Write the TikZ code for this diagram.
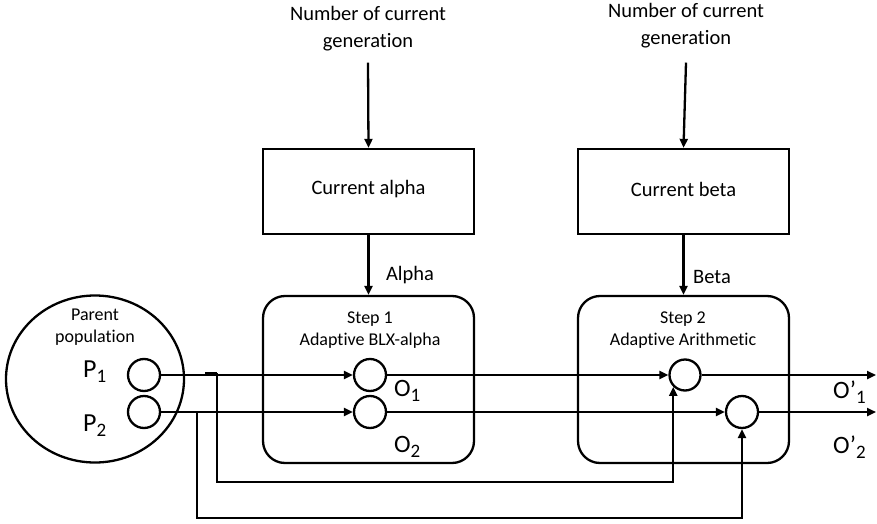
\documentclass[tikz,border=0pt]{standalone}
\usepackage{fontspec}
\setmainfont{Carlito}[Ligatures={NoCommon,NoContextual},Contextuals=NoAlternate]
\usetikzlibrary{arrows.meta,shapes.geometric}
\newcommand{\mysub}[1]{\raisebox{-5pt}{\fontsize{19}{19}\selectfont #1}}
\newcommand{\tisep}{t\kern0pt i}
\begin{document}
\begin{tikzpicture}[x=1pt,y=-1pt,line width=2.3pt,
  arr/.style={-{Triangle[length=9pt,width=8pt]}},
  txt/.style={font=\fontsize{20.5}{27}\selectfont,align=center,inner sep=0pt},
  smalltxt/.style={font=\fontsize{18}{22}\selectfont,align=center,inner sep=0pt},
  bigtxt/.style={font=\fontsize{26}{30}\selectfont,inner sep=0pt,anchor=base west},
  sqbox/.style={draw,minimum width=211pt,minimum height=85pt,inner sep=0pt},
  stepbox/.style={draw,rounded corners=22pt,minimum width=211pt,minimum height=167pt,inner sep=0pt},
  dot/.style={draw,circle,minimum size=32pt,inner sep=0pt},
  sdot/.style={draw,circle,minimum size=31pt,inner sep=0pt}]
\useasboundingbox (0,0) rectangle (877,524);

% population
\node[draw,ellipse,minimum width=178pt,minimum height=167pt,inner sep=0pt] (pop) at (95,379) {};
\node[smalltxt] (poplab) at (95,327) {Parent\\popula\tisep on};
\node[bigtxt] (p1lab) at (82,377) {P\mysub{1}};
\node[bigtxt] (p2lab) at (82,431) {P\mysub{2}};
\node[dot] (p1c) at (144,375) {};
\node[dot] (p2c) at (144,412) {};

% top inputs
\node[txt] (n1) at (368,29) {Number of current\\genera\tisep on};
\node[txt] (n2) at (686,26) {Number of current\\genera\tisep on};
\node[sqbox] (ca) at (368.5,191.5) {};
\node[txt] (calab) at (368.5,189) {Current alpha};
\node[sqbox] (cb) at (683.5,191.5) {};
\node[txt] (cblab) at (683.5,189) {Current beta};

% step boxes
\node[stepbox] (s1) at (368.5,379.5) {};
\node[smalltxt] (s1lab) at (370,330) {Step 1\\Adap\tisep ve BLX-alpha};
\node[stepbox] (s2) at (683.5,379.5) {};
\node[smalltxt] (s2lab) at (683,330) {Step 2\\Adap\tisep ve Arithme\tisep c};

\node[txt] (alab) at (410,275) {Alpha};
\node[txt] (blab) at (712,277) {Beta};

% offspring circles
\node[dot] (o1c) at (370,375) {};
\node[dot] (o2c) at (370,412) {};
\node[bigtxt,font=\fontsize{25}{30}\selectfont] (o1lab) at (393,396) {O\mysub{1}};
\node[bigtxt,font=\fontsize{25}{30}\selectfont] (o2lab) at (393,452) {O\mysub{2}};
\node[sdot] (s2a) at (685,375) {};
\node[dot] (s2b) at (742,412) {};
\node[bigtxt,font=\fontsize{25}{30}\selectfont] (q1lab) at (832,398) {O’\mysub{1}};
\node[bigtxt,font=\fontsize{25}{30}\selectfont] (q2lab) at (832,453) {O’\mysub{2}};

% coordinates
\coordinate (out1) at (876,375);
\coordinate (out2) at (876,412);
\coordinate (j1) at (217,373);
\coordinate (j0) at (205,373);
\coordinate (j2) at (197,412);
\coordinate (low1) at (0,482);
\coordinate (low2) at (0,518);

% vertical arrows
\draw[arr] ([yshift=-10pt]n1.south) -- (ca.north);
\draw[arr] ([yshift=-13pt]n2.south) -- (cb.north);
\draw[arr] (ca.south) -- (s1.north);
\draw[arr] (cb.south) -- (s2.north);

% horizontal flows
\draw[arr] (p1c.east) -- (o1c.west);
\draw[arr] (p2c.east) -- (o2c.west);
\draw[arr] (o1c.east) -- (s2a.west);
\draw[arr] (o2c.east) -- (s2b.west);
\draw[arr] (s2a.east) -- (out1);
\draw[arr] (s2b.east) -- (out2);

% branches
\draw (j0) -- (j1);
\draw[arr] (j1) |- (s2a.225 |- low1) -- (s2a.225);
\draw[arr] (j2) |- (s2b.south |- low2) -- (s2b.south);
\end{tikzpicture}
\end{document}
